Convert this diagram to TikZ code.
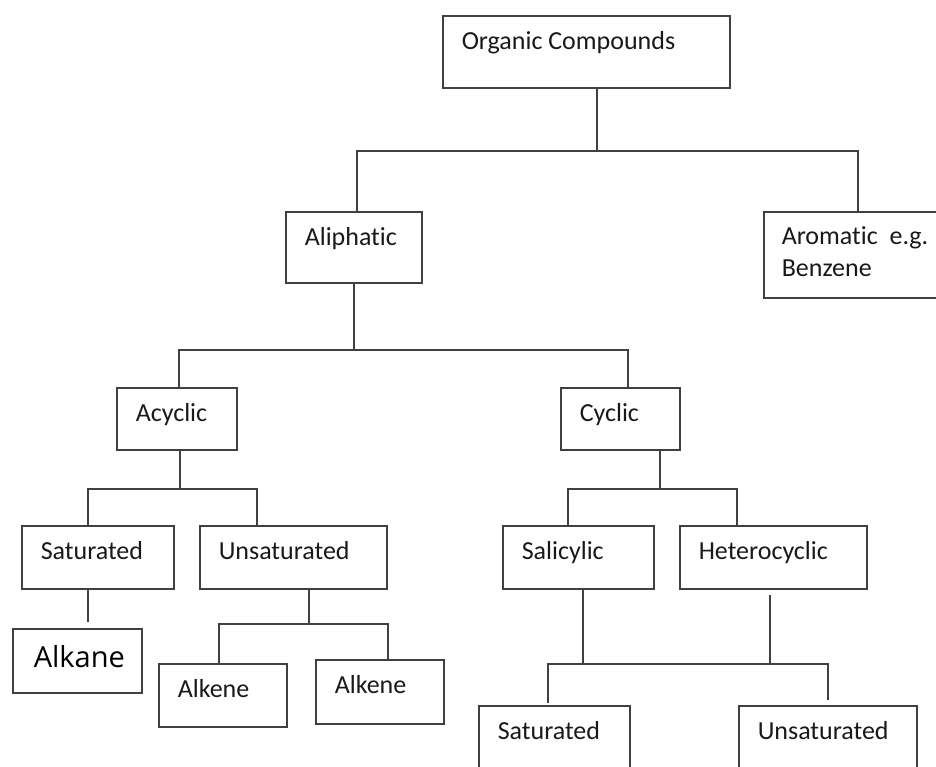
\documentclass[tikz,border=0pt]{standalone}
\usepackage{fontspec}
\setmainfont{Carlito}[Ligatures={NoCommon,NoRequired,NoContextual}]
\newfontfamily\alkfont{Open Sans}

\tikzset{
  box/.style={draw=black!75, line width=1.8pt, anchor=north west, inner sep=0pt},
  lbl/.style={anchor=base west, inner sep=0pt, xshift=19pt, yshift=-34pt, text=black!90},
  lblml/.style={anchor=north west, inner sep=0pt, xshift=18pt, yshift=-15pt, align=left, text=black!90},
  lblbig/.style={anchor=base west, inner sep=0pt, xshift=21pt, yshift=-39pt, text=black,
    font=\alkfont\fontsize{29}{34}\selectfont},
}

\begin{document}
\begin{tikzpicture}[x=1pt, y=-1pt, font=\fontsize{26}{32}\selectfont, line width=1.5pt, color=black!75]
    \path[use as bounding box, clip] (0,0) rectangle (936,766);

    % first level
    \node[box, minimum width=287pt, minimum height=72pt, label={[lbl]north west:Organic Compounds}] (org) at (442,15) {};
    \node[box, minimum width=136pt, minimum height=71pt, label={[lbl]north west:Aliphatic}] (ali) at (285,211) {};
    \node[box, minimum width=188pt, minimum height=86pt, label={[lblml]north west:Aromatic~~e.g.\\Benzene}] (aro) at (763,211) {};

    % aliphatic split
    \node[box, minimum width=120pt, minimum height=62pt, label={[lbl]north west:Acyclic}] (acy) at (116,387) {};
    \node[box, minimum width=119pt, minimum height=62pt, label={[lbl]north west:Cyclic}] (cyc) at (560,387) {};

    % acyclic side
    \node[box, minimum width=152pt, minimum height=63pt, label={[lbl]north west:Saturated}] (sat) at (21,525) {};
    \node[box, minimum width=187pt, minimum height=63pt, label={[lbl]north west:Unsaturated}] (uns) at (199,525) {};
    \node[box, minimum width=129pt, minimum height=64pt, label={[lblbig]north west:Alkane}] (alka) at (12,628) {};
    \node[box, minimum width=128pt, minimum height=63pt, label={[lbl]north west:Alkene}] (alk1) at (158,663) {};
    \node[box, minimum width=128pt, minimum height=64pt, label={[lbl]north west:Alkene}] (alk2) at (315,659) {};

    % cyclic side
    \node[box, minimum width=151pt, minimum height=63pt, label={[lbl]north west:Salicylic}] (sal) at (502,525) {};
    \node[box, minimum width=187pt, minimum height=63pt, label={[lbl]north west:Heterocyclic}] (het) at (679,525) {};
    \node[box, minimum width=151pt, minimum height=80pt, label={[lbl]north west:Saturated}] (sat2) at (478,705) {};
    \node[box, minimum width=178pt, minimum height=80pt, label={[lbl]north west:Unsaturated}] (uns2) at (738,705) {};

    % connectors
    \draw ([xshift=10.5pt]org.south) -- ++(0,62) coordinate (topj);
    \draw ([xshift=3pt]ali.north) |- (topj) -| (aro.north);

    \draw (ali.south) -- ++(0,66) coordinate (alij);
    \draw ([xshift=2pt]acy.north) |- (alij) -| ([xshift=7.5pt]cyc.north);

    \draw ([xshift=3pt]acy.south) -- ++(0,38) coordinate (acyj);
    \draw ([xshift=-10pt]sat.north) |- (acyj) -| ([xshift=-36.5pt]uns.north);
    \draw ([xshift=-10pt]sat.south) -- ([xshift=10.5pt, yshift=6pt]alka.north);
    \draw ([xshift=15.5pt]uns.south) -- ++(0,34) coordinate (unsj);
    \draw ([xshift=-4pt]alk1.north) |- (unsj) -| ([xshift=8pt]alk2.north);

    \draw ([xshift=39.5pt]cyc.south) -- ++(0,38) coordinate (cycj);
    \draw ([xshift=-10.5pt]sal.north) |- (cycj) -| ([xshift=-36.5pt]het.north);
    \draw ([xshift=4.5pt]sal.south) -- ++(0,74) coordinate (salj);
    \draw ([xshift=-3.5pt, yshift=-5pt]het.south) -- ++(0,69);
    \draw ([xshift=-6.5pt, yshift=2pt]sat2.north) |- (salj) -| ([yshift=5pt]uns2.north);
\end{tikzpicture}
\end{document}
